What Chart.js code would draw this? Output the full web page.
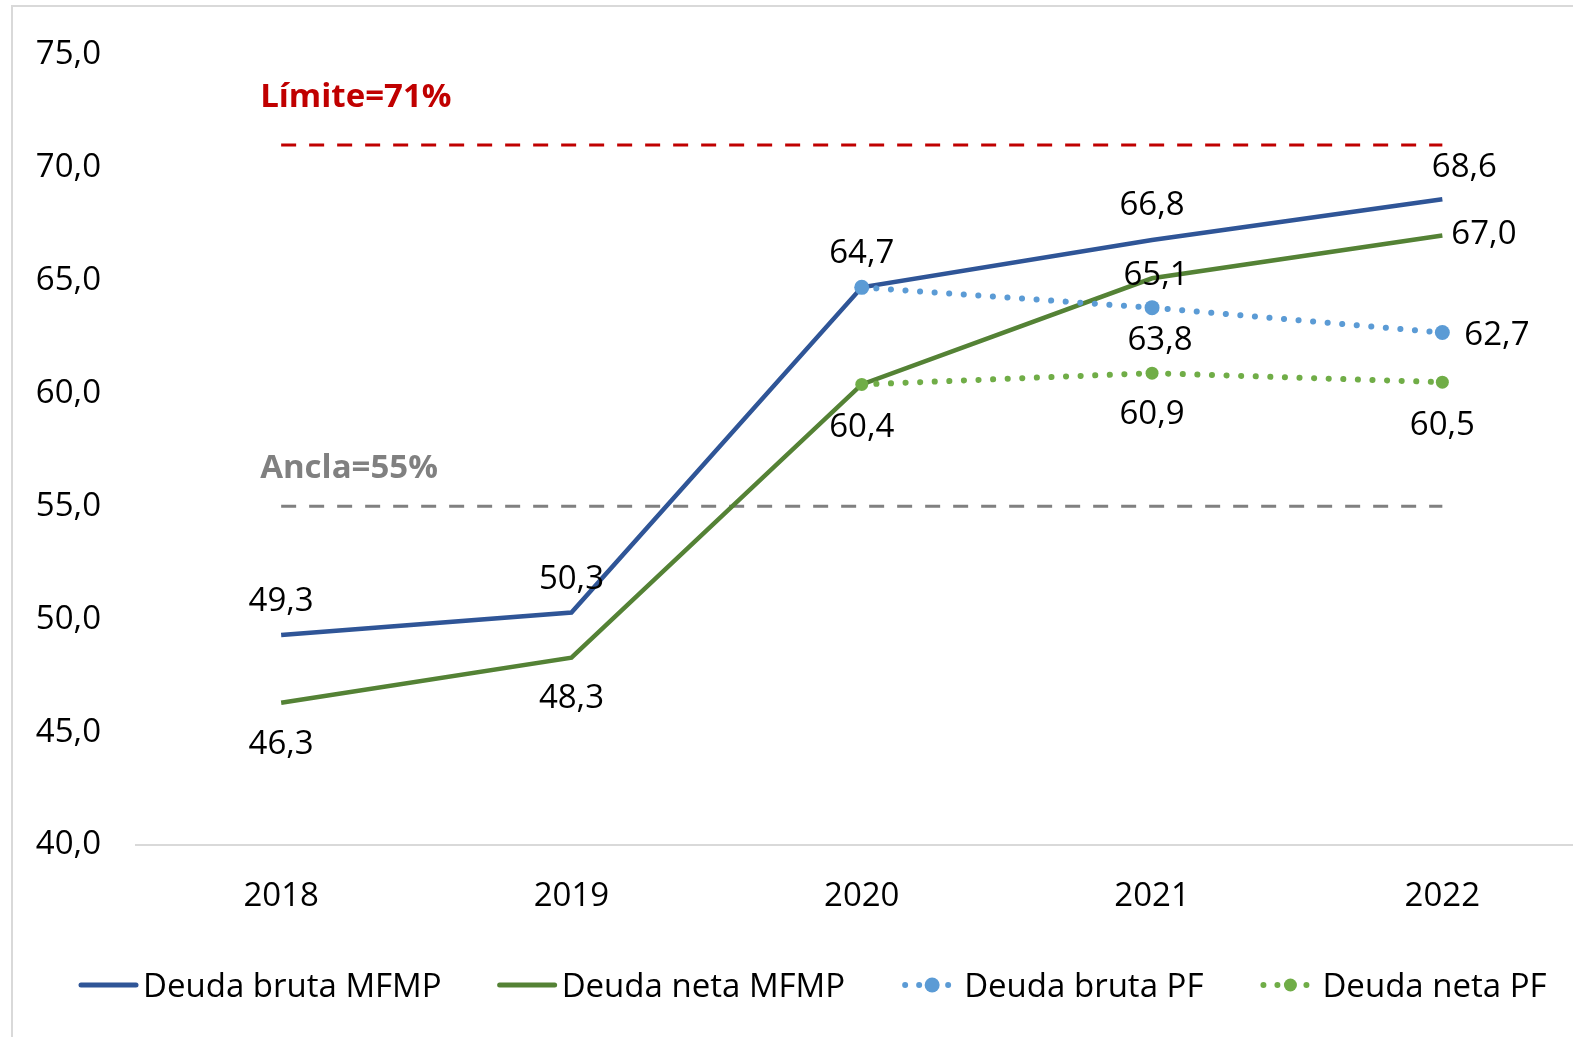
<!DOCTYPE html>
<html lang="es">
<head>
    <meta charset="UTF-8">
    <title>Deuda</title>
    <script src="https://cdn.jsdelivr.net/npm/chart.js@4.4.1/dist/chart.umd.min.js"></script>
    <style>
        html, body { margin: 0; padding: 0; background: #fff; overflow: hidden; }
    </style>
</head>
<body>
    <canvas id="chart" width="1595" height="1037"></canvas>
    <script>
        const years = ['2018', '2019', '2020', '2021', '2022']
        const brutaMFMP = [49.3, 50.3, 64.7, 66.8, 68.6]
        const netaMFMP = [46.3, 48.3, 60.4, 65.1, 67.0]
        const brutaPF = [null, null, 64.7, 63.8, 62.7]
        const netaPF = [null, null, 60.4, 60.9, 60.5]
        const limite = 71
        const ancla = 55

        // where each value label sits relative to its point [dx, dy, align]; null = no label
        const labelSpots = [
            [[0, -33, 'center'], [0, -33, 'center'], [0, -34, 'center'], [0, -34, 'center'], [22, -32, 'center']],
            [[0, 42, 'center'], [0, 41, 'center'], [0, 43, 'center'], [4, -3, 'center'], [9, -1, 'left']],
            [null, null, null, [8, 33, 'center'], [22, 3, 'left']],
            [null, null, null, [0, 41, 'center'], [0, 43, 'center']],
        ]

        const FONT = '"Open Sans", "Noto Sans", sans-serif'
        const SIZE = 33
        const fmt = v => v.toFixed(1).replace('.', ',')

        const frame = {
            id: 'frame',
            beforeDraw(chart) {
                const ctx = chart.ctx
                ctx.save()
                ctx.fillStyle = '#fff'
                ctx.fillRect(0, 0, chart.width, chart.height)
                ctx.strokeStyle = '#D9D9D9'
                ctx.lineWidth = 2
                ctx.strokeRect(12, 6, 3000, 3000)
                ctx.restore()
            }
        }

        const valueLabels = {
            id: 'valueLabels',
            afterDatasetsDraw(chart) {
                const ctx = chart.ctx
                ctx.save()
                ctx.font = SIZE + 'px ' + FONT
                ctx.fillStyle = '#000'
                ctx.textBaseline = 'middle'
                labelSpots.forEach((spots, di) => {
                    const meta = chart.getDatasetMeta(di)
                    const vals = chart.data.datasets[di].data
                    spots.forEach((s, i) => {
                        if (!s || vals[i] == null) return
                        const pt = meta.data[i]
                        ctx.textAlign = s[2]
                        ctx.fillText(fmt(vals[i]), pt.x + s[0], pt.y + s[1])
                    })
                })
                // reference line captions
                const x0 = chart.scales.x.getPixelForValue(0) - 21
                const ys = chart.scales.y
                ctx.font = 'bold ' + SIZE + 'px ' + FONT
                ctx.textAlign = 'left'
                ctx.fillStyle = '#C00000'
                ctx.fillText('Límite=' + limite + '%', x0, ys.getPixelForValue(limite) - 48)
                ctx.fillStyle = '#808080'
                ctx.fillText('Ancla=' + ancla + '%', x0, ys.getPixelForValue(ancla) - 38)
                ctx.restore()
            }
        }

        const bottomLegend = {
            id: 'bottomLegend',
            afterDraw(chart) {
                const ctx = chart.ctx
                ctx.save()
                ctx.font = SIZE + 'px ' + FONT
                ctx.textBaseline = 'middle'
                ctx.textAlign = 'left'
                const y = 985
                let x = 79
                chart.data.datasets.forEach(d => {
                    if (d.isRef) return
                    let tx
                    if (d.dotted) {
                        ctx.fillStyle = d.borderColor
                        ;[4, 18, 47].forEach(o => {
                            ctx.beginPath()
                            ctx.arc(x + o, y, 3, 0, Math.PI * 2)
                            ctx.fill()
                        })
                        ctx.beginPath()
                        ctx.arc(x + 31, y, d.pointRadius, 0, Math.PI * 2)
                        ctx.fill()
                        tx = x + 63
                    } else {
                        ctx.strokeStyle = d.borderColor
                        ctx.lineWidth = 5
                        ctx.lineCap = 'round'
                        ctx.beginPath()
                        ctx.moveTo(x + 2, y)
                        ctx.lineTo(x + 57, y)
                        ctx.stroke()
                        tx = x + 64
                    }
                    ctx.fillStyle = '#000'
                    ctx.fillText(d.label, tx, y + 3)
                    x = tx + ctx.measureText(d.label).width + 56
                })
                ctx.restore()
            }
        }

        const refLine = (val, color) => ({
            label: 'ref',
            isRef: true,
            data: years.map(() => val),
            borderColor: color,
            borderWidth: 3,
            borderDash: [15, 13],
            pointRadius: 0,
            order: 5,
        })

        new Chart(document.getElementById('chart'), {
            type: 'line',
            data: {
                labels: years,
                datasets: [{
                    label: 'Deuda bruta MFMP',
                    data: brutaMFMP,
                    borderColor: '#2F5597',
                    borderWidth: 4.5,
                    pointRadius: 0,
                    order: 2,
                }, {
                    label: 'Deuda neta MFMP',
                    data: netaMFMP,
                    borderColor: '#548235',
                    borderWidth: 4.5,
                    pointRadius: 0,
                    order: 3,
                }, {
                    label: 'Deuda bruta PF',
                    dotted: true,
                    data: brutaPF,
                    borderColor: '#5B9BD5',
                    backgroundColor: '#5B9BD5',
                    borderWidth: 6,
                    borderDash: [0.1, 14.5],
                    borderCapStyle: 'round',
                    pointRadius: 7.5,
                    pointBorderWidth: 0,
                    order: 1,
                }, {
                    label: 'Deuda neta PF',
                    dotted: true,
                    data: netaPF,
                    borderColor: '#70AD47',
                    backgroundColor: '#70AD47',
                    borderWidth: 6,
                    borderDash: [0.1, 14.5],
                    borderCapStyle: 'round',
                    pointRadius: 6.5,
                    pointBorderWidth: 0,
                    order: 1,
                },
                    refLine(limite, '#C00000'),
                    refLine(ancla, '#808080'),
                ]
            },
            options: {
                responsive: false,
                animation: false,
                layout: { padding: { top: 50, right: 0, bottom: 110, left: 0 } },
                plugins: { legend: { display: false }, tooltip: { enabled: false } },
                scales: {
                    x: {
                        offset: true,
                        grid: { display: false, drawTicks: false, offset: true },
                        border: { display: true, color: '#D9D9D9', width: 2 },
                        ticks: { padding: 32, color: '#000', font: { family: FONT, size: SIZE } },
                        afterFit(s) { s.height = 82 },
                    },
                    y: {
                        min: 40,
                        max: 75,
                        grid: { display: false, drawTicks: false },
                        border: { display: false },
                        ticks: {
                            stepSize: 5,
                            padding: 35,
                            color: '#000',
                            font: { family: FONT, size: SIZE },
                            callback: v => fmt(v),
                        },
                        afterFit(s) { s.width = 136 },
                    }
                }
            },
            plugins: [frame, valueLabels, bottomLegend]
        })
    </script>
</body>
</html>
